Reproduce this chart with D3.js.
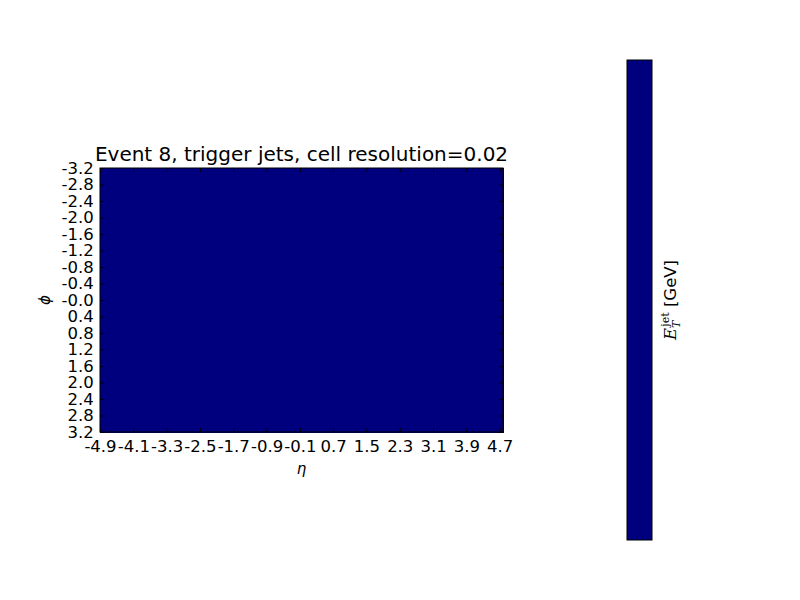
<!DOCTYPE html>
<html>
<head>
<meta charset="utf-8">
<script src="https://cdn.jsdelivr.net/npm/d3@7"></script>
<style>
  html, body { margin: 0; padding: 0; background: #fff; }
  svg { display: block; }
  text { font-family: "DejaVu Sans", sans-serif; fill: #000; }
</style>
</head>
<body>
<svg id="chart" width="800" height="600"></svg>
<script>
// ---- data ----
const titleText = "Event 8, trigger jets, cell resolution=0.02";
const etaTicks = [-4.9, -4.1, -3.3, -2.5, -1.7, -0.9, -0.1, 0.7, 1.5, 2.3, 3.1, 3.9, 4.7];
const etaTickLabels = ["-4.9","-4.1","-3.3","-2.5","-1.7","-0.9","-0.1","0.7","1.5","2.3","3.1","3.9","4.7"];
const phiTicks = [-3.2, -2.8, -2.4, -2.0, -1.6, -1.2, -0.8, -0.4, 0.0, 0.4, 0.8, 1.2, 1.6, 2.0, 2.4, 2.8, 3.2];
const phiTickLabels = ["-3.2","-2.8","-2.4","-2.0","-1.6","-1.2","-0.8","-0.4","-0.0","0.4","0.8","1.2","1.6","2.0","2.4","2.8","3.2"];
// cell edges of the (coarsened) eta/phi grid
const etaEdges = [-4.9, -4.1, -3.3, -2.5, -1.7, -0.9, -0.1, 0.7, 1.5, 2.3, 3.1, 3.9, 4.7, 4.78];
const phiEdges = [-3.2, -2.8, -2.4, -2.0, -1.6, -1.2, -0.8, -0.4, 0.0, 0.4, 0.8, 1.2, 1.6, 2.0, 2.4, 2.8, 3.2];
// E_T^jet per cell [GeV] (rows = phi bins, cols = eta bins) – event is empty
const cellET = [
  [0,0,0,0,0,0,0,0,0,0,0,0,0],
  [0,0,0,0,0,0,0,0,0,0,0,0,0],
  [0,0,0,0,0,0,0,0,0,0,0,0,0],
  [0,0,0,0,0,0,0,0,0,0,0,0,0],
  [0,0,0,0,0,0,0,0,0,0,0,0,0],
  [0,0,0,0,0,0,0,0,0,0,0,0,0],
  [0,0,0,0,0,0,0,0,0,0,0,0,0],
  [0,0,0,0,0,0,0,0,0,0,0,0,0],
  [0,0,0,0,0,0,0,0,0,0,0,0,0],
  [0,0,0,0,0,0,0,0,0,0,0,0,0],
  [0,0,0,0,0,0,0,0,0,0,0,0,0],
  [0,0,0,0,0,0,0,0,0,0,0,0,0],
  [0,0,0,0,0,0,0,0,0,0,0,0,0],
  [0,0,0,0,0,0,0,0,0,0,0,0,0],
  [0,0,0,0,0,0,0,0,0,0,0,0,0],
  [0,0,0,0,0,0,0,0,0,0,0,0,0]
];
const colorbarRange = [0, 0];
const jetStops = ["#00007f","#0000ff","#007fff","#00ffff","#7fff7f","#ffff00","#ff7f00","#ff0000","#7f0000"];

// ---- layout ----
const plot = { left: 100, top: 168, right: 503, bottom: 432 };
const cbar = { left: 627, top: 60, right: 652, bottom: 540 };

const svg = d3.select("#chart");

const x = d3.scaleLinear().domain([etaEdges[0], etaEdges[etaEdges.length - 1]]).range([plot.left, plot.right]);
const y = d3.scaleLinear().domain([phiEdges[0], phiEdges[phiEdges.length - 1]]).range([plot.top, plot.bottom]);

const vmax = Math.max(d3.max(cellET.flat()), 1e-9);
const color = d3.scaleLinear()
  .domain(jetStops.map((_, i) => i / (jetStops.length - 1) * vmax))
  .range(jetStops)
  .interpolate(d3.interpolateRgb)
  .clamp(true);

// ---- heatmap cells ----
const cells = [];
cellET.forEach((row, i) => row.forEach((v, j) => cells.push({ i, j, v })));
svg.append("g").attr("shape-rendering", "crispEdges")
  .selectAll("rect").data(cells).join("rect")
  .attr("x", d => x(etaEdges[d.j]))
  .attr("y", d => y(phiEdges[d.i]))
  .attr("width", d => x(etaEdges[d.j + 1]) - x(etaEdges[d.j]) + 0.5)
  .attr("height", d => y(phiEdges[d.i + 1]) - y(phiEdges[d.i]) + 0.5)
  .attr("fill", d => color(d.v));

// ---- axes (matplotlib classic: inward ticks on all sides) ----
const tickLen = 4;
const fmtX = (d, i) => etaTickLabels[i];
const fmtY = (d, i) => phiTickLabels[i];

const axB = svg.append("g").attr("transform", `translate(0,${plot.bottom})`)
  .call(d3.axisBottom(x).tickValues(etaTicks).tickFormat(fmtX).tickSizeInner(-tickLen).tickSizeOuter(0).tickPadding(8));
const axT = svg.append("g").attr("transform", `translate(0,${plot.top})`)
  .call(d3.axisTop(x).tickValues(etaTicks).tickFormat("").tickSizeInner(-tickLen).tickSizeOuter(0));
const axL = svg.append("g").attr("transform", `translate(${plot.left},0)`)
  .call(d3.axisLeft(y).tickValues(phiTicks).tickFormat(fmtY).tickSizeInner(-tickLen).tickSizeOuter(0).tickPadding(8));
const axR = svg.append("g").attr("transform", `translate(${plot.right},0)`)
  .call(d3.axisRight(y).tickValues(phiTicks).tickFormat("").tickSizeInner(-tickLen).tickSizeOuter(0));

[axB, axT, axL, axR].forEach(g => {
  g.select(".domain").remove();
  g.selectAll(".tick line").attr("stroke", "#000").attr("stroke-width", 1);
  g.selectAll(".tick text").attr("font-family", "DejaVu Sans").attr("font-size", 16.5).attr("fill", "#000");
});
axL.selectAll(".tick text").attr("dx", "0.1em");

// frame
svg.append("rect")
  .attr("x", plot.left).attr("y", plot.top)
  .attr("width", plot.right - plot.left).attr("height", plot.bottom - plot.top)
  .attr("fill", "none").attr("stroke", "#000").attr("stroke-width", 1);

// title
svg.append("text")
  .attr("x", (plot.left + plot.right) / 2).attr("y", 161)
  .attr("text-anchor", "middle").attr("font-size", 20)
  .text(titleText);

// axis labels
svg.append("text")
  .attr("x", (plot.left + plot.right) / 2).attr("y", 474)
  .attr("text-anchor", "middle")
  .attr("font-family", "DejaVu Serif").attr("font-style", "italic").attr("font-size", 15)
  .text("η");
svg.append("text")
  .attr("transform", `translate(50,${(plot.top + plot.bottom) / 2}) rotate(-90)`)
  .attr("text-anchor", "middle")
  .attr("font-family", "DejaVu Serif").attr("font-style", "italic").attr("font-size", 15)
  .text("ϕ");

// ---- colorbar ----
svg.append("rect")
  .attr("x", cbar.left).attr("y", cbar.top)
  .attr("width", cbar.right - cbar.left).attr("height", cbar.bottom - cbar.top)
  .attr("fill", color(colorbarRange[0]))
  .attr("stroke", "#000").attr("stroke-width", 1);

const cbl = svg.append("text")
  .attr("transform", `translate(676,${(cbar.top + cbar.bottom) / 2}) rotate(-90)`)
  .attr("text-anchor", "middle")
  .attr("font-size", 16.5);
cbl.append("tspan").attr("font-family", "DejaVu Serif").attr("font-style", "italic").text("E");
cbl.append("tspan").attr("font-family", "DejaVu Serif").attr("font-style", "italic")
  .attr("font-size", 11).attr("dy", 4).text("T");
cbl.append("tspan").attr("font-family", "DejaVu Serif")
  .attr("font-size", 11).attr("dx", -6).attr("dy", -11).text("jet");
cbl.append("tspan").attr("dy", 7).text("  [GeV]");
</script>
</body>
</html>
